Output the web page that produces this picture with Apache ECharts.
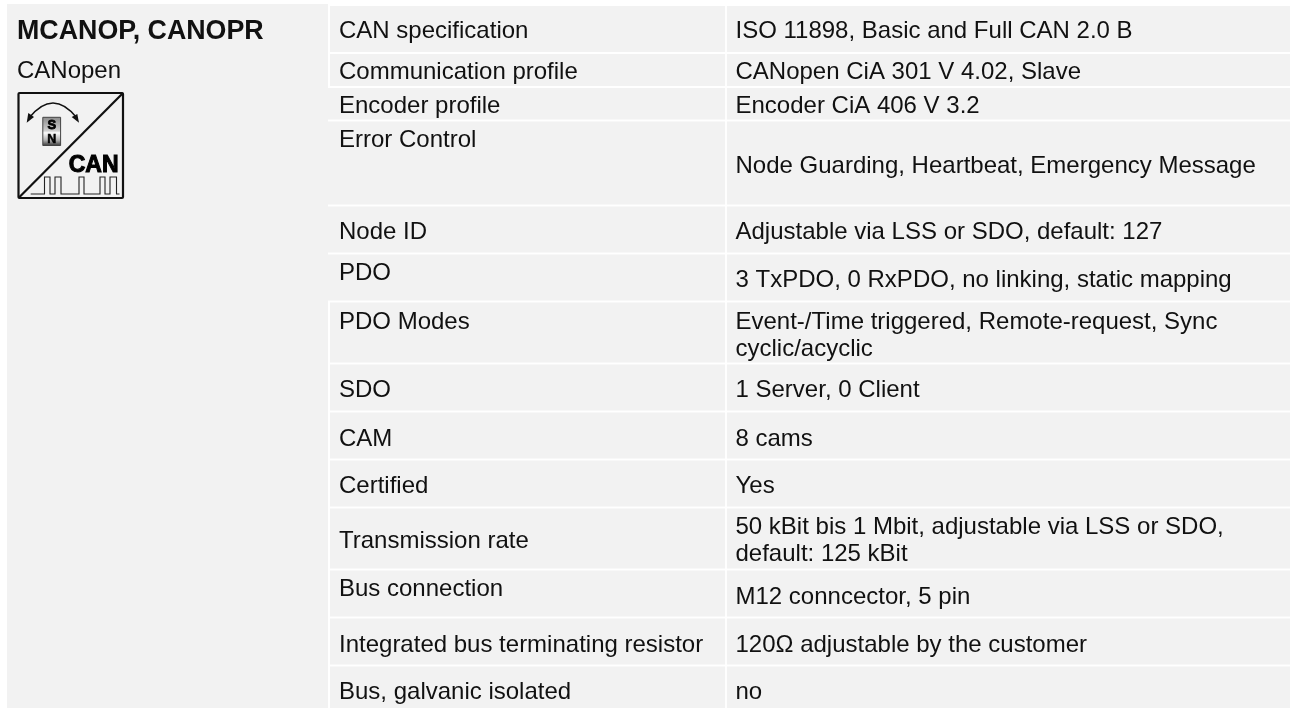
<!DOCTYPE html>
<html><head><meta charset="utf-8">
<style>html,body{margin:0;padding:0;background:#fff}#c{width:1290px;height:708px}</style>
<script src="https://cdn.jsdelivr.net/npm/echarts@6/dist/echarts.min.js"></script>
</head><body><div id="c"></div>
<script>
const title = 'MCANOP, CANOPR';
const subtitle = 'CANopen';
const labels = ['CAN specification','Communication profile','Encoder profile','Error Control','Node ID','PDO','PDO Modes','SDO','CAM','Certified','Transmission rate','Bus connection','Integrated bus terminating resistor','Bus, galvanic isolated'];
const values = [['ISO 11898, Basic and Full CAN 2.0 B'],['CANopen CiA 301 V 4.02, Slave'],['Encoder CiA 406 V 3.2'],['Node Guarding, Heartbeat, Emergency Message'],['Adjustable via LSS or SDO, default: 127'],['3 TxPDO, 0 RxPDO, no linking, static mapping'],['Event-/Time triggered, Remote-request, Sync','cyclic/acyclic'],['1 Server, 0 Client'],['8 cams'],['Yes'],['50 kBit bis 1 Mbit, adjustable via LSS or SDO,','default: 125 kBit'],['M12 conncector, 5 pin'],['120Ω adjustable by the customer'],['no']];
// layout, kept apart from the text
const rowEdges = [6,53,87,120.5,205.5,253.5,301.5,363.5,411.5,459.5,507.5,569.5,617.5,665.5,708];
const labelBase = [37,78,112,146.5,238.5,279,328,396.5,445,492.5,547.5,595.5,651,698.5];
const valueBase = [[37],[78],[112],[172.5],[238.5],[286.5],[328,355],[396.5],[445],[492.5],[533.5,560],[603.5],[651],[698.5]];
const noLeftGap = [2,3,4,5];
const colX = [330,726,1290];
const panel = [7,4,328,708];
const labelX = 339, valueX = 735.5;
const BG = '#f2f2f2', INK = '#111', FONT = '"Liberation Sans", Arial, sans-serif', SIZE = 24;

const chart = echarts.init(document.getElementById('c'), null, {renderer:'canvas'});
function txt(api, s, x, base, font){
  const p = api.coord([x, base]);
  return {type:'text', style:{text:s, x:p[0], y:p[1]-6, fill:INK, font:font||(SIZE+'px '+FONT), align:'left', verticalAlign:'middle'}};
}
function rect(api,x0,y0,x1,y1){
  const a = api.coord([x0,y0]), b = api.coord([x1,y1]);
  return {type:'rect', shape:{x:a[0],y:a[1],width:b[0]-a[0],height:b[1]-a[1]}, style:{fill:BG}};
}
const G = 0.9; // half of the white rule between rows
const icon = [
  {type:'rect',shape:{x:18.5,y:93,width:104.5,height:105,r:1},style:{fill:'none',stroke:'#111',lineWidth:2.2}},
  {type:'line',shape:{x1:18.5,y1:198,x2:123,y2:93},style:{stroke:'#111',lineWidth:2.2}},
  {type:'bezierCurve',shape:{x1:29,y1:118,cpx1:53,cpy1:88,x2:77,y2:118},style:{fill:'none',stroke:'#111',lineWidth:1.5}},
  {type:'polygon',shape:{points:[[26.7,122.7],[28.3,113],[34,117]]},style:{fill:'#111'}},
  {type:'polygon',shape:{points:[[79,122.7],[77.3,114],[71.7,117]]},style:{fill:'#111'}},
  {type:'rect',shape:{x:42.8,y:117.3,width:17.8,height:28.2},style:{stroke:'#444',lineWidth:1,fill:{type:'linear',x:0,y:0,x2:0,y2:1,colorStops:[{offset:0,color:'#8a8a8a'},{offset:.48,color:'#cfcfcf'},{offset:.55,color:'#fdfdfd'},{offset:.8,color:'#b0b0b0'},{offset:1,color:'#333'}]}}},
  {type:'text',style:{text:'S',x:51.8,y:125.4,fill:'#000',stroke:'#000',lineWidth:0.8,font:'bold 13px "Liberation Sans"',align:'center',verticalAlign:'middle'}},
  {type:'text',style:{text:'N',x:51.8,y:140,fill:'#000',stroke:'#000',lineWidth:0.5,font:'bold 12.5px "Liberation Sans"',align:'center',verticalAlign:'middle'}},
  {type:'text',style:{text:'CAN',x:118.5,y:165.5,fill:'#000',stroke:'#000',lineWidth:1,font:'bold 23px "Liberation Sans"',align:'right',verticalAlign:'middle'}},
  {type:'polyline',shape:{points:[[30.7,194],[44.5,194],[44.5,177],[50,177],[50,194],[55,194],[55,177],[61,177],[61,194],[79,194],[79,177],[84,177],[84,194],[100,194],[100,177],[105,177],[105,194],[110,194],[110,177],[116.5,177],[116.5,194],[119.5,194]]},style:{fill:'none',stroke:'#222',lineWidth:1.1}}
].map(e=>Object.assign(e,{z:50,silent:true}));
const option = {
  animation:false,
  backgroundColor:'#fff',
  grid:{left:0,right:0,top:0,bottom:0},
  xAxis:{type:'value',min:0,max:1290,show:false},
  yAxis:{type:'value',min:0,max:708,inverse:true,show:false},
  series:[
    {type:'custom', silent:true, data:[0], renderItem:(p,api)=>({type:'group',children:[
      rect(api,panel[0],panel[1],panel[2],panel[3]),
      txt(api,title,17,37.5,'bold 26.8px '+FONT),
      txt(api,subtitle,17,77.5,SIZE+'px '+FONT)
    ]})},
    {type:'custom', silent:true, data:labels.map((_,i)=>i), renderItem:(p,api)=>{
      const i = api.value(0);
      const t = i===0?rowEdges[0]:rowEdges[i]+G, b = i===labels.length-1?rowEdges[i+1]:rowEdges[i+1]-G;
      const left = noLeftGap.includes(i)?327:colX[0];
      const kids = [rect(api,left,t,colX[1]-G,b), rect(api,colX[1]+G,t,colX[2],b), txt(api,labels[i],labelX,labelBase[i])];
      values[i].forEach((s,k)=>kids.push(txt(api,s,valueX,valueBase[i][k])));
      return {type:'group',children:kids};
    }}
  ],
  graphic:{elements:icon}
};
chart.setOption(option);
</script></body></html>
